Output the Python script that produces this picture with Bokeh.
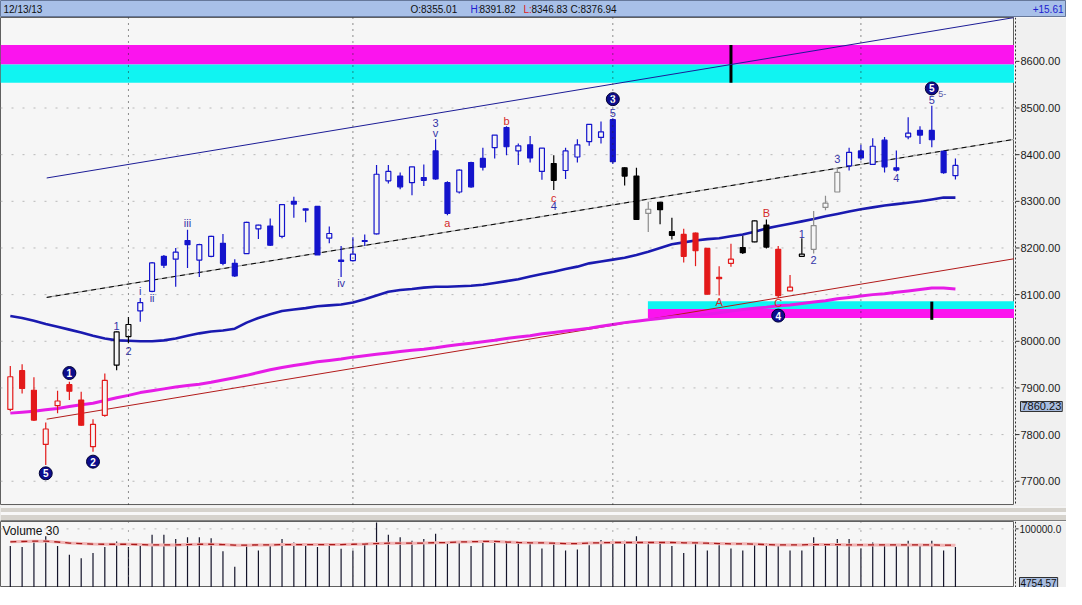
from bokeh.plotting import figure
from bokeh.layouts import column, row
from bokeh.models import Range1d, Label, Span, ColumnDataSource
from bokeh.core.properties import value
from bokeh.embed import file_html
from bokeh.resources import INLINE

FONT = "Liberation Sans"

# ---------------- data ----------------
date_label = "12/13/13"

opens = [7854, 7937, 7895, 7779, 7862, 7907, 7874, 7774, 7841, 7949,
         8010, 8065, 8107, 8182, 8176, 8216, 8174, 8182, 8210, 8167,
         8188, 8241, 8247, 8225, 8300, 8281, 8289, 8221, 8174, 8173,
         8214, 8230, 8344, 8354, 8340, 8351, 8408, 8340, 8320, 8383,
         8392, 8415, 8458, 8408, 8421, 8364, 8381, 8366, 8395, 8428,
         8437, 8475, 8372, 8354, 8274, 8298, 8235, 8229, 8232, 8199,
         8137, 8167, 8201, 8213, 8249, 8197, 8108, 8182, 8197, 8287,
         8320, 8376, 8408, 8379, 8431, 8372, 8438, 8452, 8452, 8407,
         8355.01]
highs = [7947, 7951, 7923, 7826, 7894, 7913, 7892, 7833, 7931, 8021,
         8052, 8093, 8170, 8185, 8200, 8239, 8209, 8226, 8230, 8176,
         8256, 8250, 8263, 8294, 8310, 8285, 8290, 8246, 8204, 8223,
         8229, 8378, 8378, 8362, 8374, 8379, 8433, 8343, 8369, 8385,
         8415, 8442, 8461, 8424, 8440, 8414, 8399, 8415, 8433, 8465,
         8471, 8478, 8373, 8372, 8299, 8299, 8265, 8241, 8233, 8200,
         8161, 8209, 8226, 8259, 8261, 8204, 8142, 8221, 8279, 8312,
         8373, 8415, 8421, 8435, 8438, 8409, 8480, 8461, 8505, 8409,
         8391.82]
lows = [7850, 7888, 7829, 7735, 7846, 7874, 7819, 7763, 7838, 7938,
        7996, 8042, 8105, 8157, 8117, 8157, 8138, 8180, 8163, 8138,
        8187, 8219, 8204, 8221, 8265, 8255, 8185, 8210, 8138, 8171,
        8204, 8229, 8338, 8326, 8313, 8333, 8346, 8270, 8317, 8329,
        8366, 8392, 8399, 8378, 8383, 8346, 8324, 8348, 8383, 8419,
        8424, 8380, 8334, 8261, 8234, 8251, 8218, 8169, 8161, 8100,
        8098, 8160, 8187, 8212, 8199, 8093, 8107, 8181, 8188, 8281,
        8320, 8366, 8388, 8378, 8362, 8364, 8433, 8423, 8416, 8359,
        8346.83]
closes = [7924, 7899, 7831, 7812, 7872, 7893, 7820, 7822, 7916, 8020,
          8036, 8083, 8168, 8163, 8191, 8207, 8207, 8225, 8167, 8140,
          8255, 8249, 8206, 8293, 8294, 8284, 8185, 8231, 8171, 8187,
          8216, 8358, 8364, 8331, 8374, 8345, 8348, 8274, 8367, 8331,
          8373, 8442, 8417, 8419, 8393, 8414, 8345, 8408, 8421, 8465,
          8449, 8385, 8354, 8261, 8283, 8282, 8227, 8182, 8194, 8101,
          8134, 8176, 8190, 8258, 8202, 8098, 8116, 8187, 8248, 8296,
          8362, 8405, 8393, 8418, 8374, 8367, 8446, 8442, 8432, 8361.33,
          8376.94]
# wave colouring of each bar: R red, K black, B blue, G grey
candle_codes = ("RRRRRRRRR" "KK" + "B" * 35 + "K" + "B" * 5 + "KKGKK" +
                "RRRRR" "KKK" "RR" "K" "GGG" + "B" * 10)

ma_blue = [8054, 8050, 8044, 8037, 8031, 8025, 8019, 8012, 8006, 8002,
           8001, 8000, 8000, 8002, 8006, 8012, 8017, 8021, 8023, 8027,
           8040, 8050, 8058, 8065, 8068, 8071, 8075, 8077, 8079, 8083,
           8090, 8098, 8106, 8110, 8112, 8115, 8117, 8117, 8118, 8119,
           8121, 8125, 8129, 8133, 8139, 8144, 8149, 8155, 8160, 8167,
           8171, 8175, 8179, 8185, 8192, 8200, 8208, 8212, 8216, 8219,
           8221, 8225, 8229, 8235, 8242, 8247, 8252, 8257, 8262, 8268,
           8273, 8278, 8283, 8287, 8291, 8294, 8297, 8300, 8304, 8308,
           8308]
ma_magenta = [7846, 7848, 7850, 7853, 7856, 7860, 7864, 7867, 7873, 7879,
              7884, 7890, 7894, 7898, 7902, 7905, 7908, 7912, 7917, 7922,
              7927, 7933, 7939, 7944, 7948, 7952, 7956, 7959, 7962, 7966,
              7969, 7972, 7975, 7978, 7981, 7983, 7986, 7990, 7993, 7996,
              7999, 8002, 8006, 8009, 8012, 8016, 8019, 8022, 8025, 8028,
              8032, 8036, 8040, 8043, 8046, 8049, 8052, 8054, 8056, 8058,
              8061, 8065, 8068, 8071, 8073, 8076, 8078, 8081, 8084, 8087,
              8091, 8094, 8097, 8100, 8102, 8105, 8108, 8111, 8114, 8114,
              8112]

volumes = [72300, 70600, 80800, 88100, 72300, 58000, 52400, 60900, 70600, 79600,
           70600, 73300, 90300, 90300, 83500, 86400, 86400, 84700, 63800, 38300,
           73300, 64800, 72300, 83500, 77900, 73300, 70600, 73600, 67700, 64800,
           75000, 110200, 90300, 86400, 80800, 83500, 92000, 76700, 79100, 72300,
           79100, 80800, 77900, 77900, 75000, 68200, 75000, 64800, 66500, 73300,
           81800, 77900, 80800, 88100, 75000, 76700, 72300, 60900, 75000, 64800,
           73300, 68200, 64800, 73300, 76700, 73300, 64800, 64800, 86400, 72300,
           83500, 83500, 68200, 77900, 73900, 75000, 80800, 72300, 80800, 64800,
           70600]
vol_ma = [79000, 79500, 80000, 80000, 78700, 77000, 76200, 75300, 75000, 75000,
          75000, 74500, 74000, 74000, 74000, 74500, 75000, 75000, 74500, 73600,
          73600, 74000, 74000, 74500, 74500, 74500, 74500, 74500, 74500, 75000,
          75300, 76200, 76700, 76700, 76700, 77000, 77500, 77900, 78700, 79100,
          79600, 79600, 78700, 77900, 77400, 77400, 76700, 76200, 76200, 77000,
          77400, 77900, 77900, 77900, 77900, 77900, 77900, 77400, 77400, 76700,
          76200, 75700, 75700, 75300, 74500, 74000, 74000, 74000, 74500, 74500,
          74500, 74000, 74000, 74000, 74000, 74000, 74000, 74000, 74000, 73600,
          73600]
vol_axis_min = 4754.57
vol_ticks = [100000]

price_ticks = [7700, 7800, 7900, 8000, 8100, 8200, 8300, 8400, 8500, 8600]
month_breaks = [10, 29, 51, 72]
marker_price = 7860.23

# channel / trend lines (bar index, price)
trend_x0 = [3.08, 3.08, 3.08]
trend_y0 = [8350, 8094, 7833]
trend_x1 = [85, 85, 85]
trend_y1 = [8694, 8433, 8177]

# target zones
zone_start = [-0.83, -0.83, 53.97, 53.97]
zone_low = [8593, 8554, 8069, 8050]
zone_high = [8635, 8593, 8086, 8069]
zone_kind = ["m", "c", "c", "m"]
zone_mark_x = [61, 78]
zone_mark_low = [8554, 8046]
zone_mark_high = [8635, 8085]

# wave labels
wave_text = ["1", "2", "i", "ii", "iii", "iv", "3", "v", "a", "b", "c", "4", "5",
             "A", "B", "C", "1", "2", "3", "4", "5"]
wave_x = [9, 10, 11, 12, 15, 28, 36, 36, 37, 42, 46, 46, 51, 60, 64, 65, 67, 68, 70, 75, 78]
wave_y = [8033, 7979, 8107, 8092, 8253, 8125, 8468, 8446, 8254, 8473, 8308, 8289, 8490,
          8085, 8276, 8083, 8231, 8174, 8390, 8349, 8517]
wave_kind = ["b", "b", "b", "b", "b", "b", "b", "b", "r", "r", "r", "b", "b",
             "r", "r", "r", "b", "b", "b", "b", "b"]
circ_text = ["5", "1", "2", "3", "4", "5"]
circ_x = [3, 5, 7, 51, 65, 78]
circ_y = [7717, 7932, 7742, 8519, 8055, 8542]

# ---------------- styling ----------------
W_FRAME = 1014
W_AXIS = 52
W_TOTAL = W_FRAME + W_AXIS
H_MAIN = 488
H_VOL = 66
PLOT_BG = "#f6f6f6"
AXIS_BG = "#f0f0f0"
BOX_BG = "#a8bde0"
code_colors = {"R": "#e31a1a", "K": "#000000", "B": "#1414cc", "G": "#8c8c8c"}
kind_colors = {"b": "#3434a8", "r": "#d42a2a", "m": "#fb14ee", "c": "#10f4f2"}

n = len(opens)
idx = list(range(n))
colors = [code_colors[c] for c in candle_codes]
fills = [PLOT_BG if c >= o else col for o, c, col in zip(opens, closes, colors)]
tops = [max(o, c) for o, c in zip(opens, closes)]
bots = [min(o, c) for o, c in zip(opens, closes)]

xr = Range1d(-0.83, 85)
yr = Range1d(7648, 8694)
vyr = Range1d(vol_axis_min, 112000)


def bare(fig):
    fig.grid.visible = False
    return fig


# ---------------- header ----------------
hdr = bare(figure(frame_width=W_TOTAL, frame_height=17, x_range=Range1d(0, W_TOTAL),
                  y_range=Range1d(0, 1), output_backend="svg", toolbar_location=None,
                  min_border=0, x_axis_location=None, y_axis_location=None,
                  background_fill_color="#a8c0e8", border_fill_color="#a8c0e8",
                  outline_line_color="#66789a"))
change = closes[-1] - closes[-2]
hdr_parts = [
    (3, date_label, "#101010", "left"),
    (410, "O:%.2f" % opens[-1], "#101010", "left"),
    (470, "H:", "#2020d0", "left"),
    (479, "%.2f" % highs[-1], "#101010", "left"),
    (523, "L:", "#e02020", "left"),
    (531, "%.2f" % lows[-1], "#101010", "left"),
    (570, "C:%.2f" % closes[-1], "#101010", "left"),
    (W_TOTAL - 3, "%+.2f" % change, "#2020d0", "right"),
]
for hx, ht, hc, ha in hdr_parts:
    hdr.text(x=[hx], y=[0.5], text=[ht], text_color=hc, text_align=ha,
             text_baseline="middle", text_font=value(FONT), text_font_size="10px")

# ---------------- main price chart ----------------
p = figure(frame_width=W_FRAME, frame_height=H_MAIN, x_range=xr, y_range=yr,
           y_axis_location=None, x_axis_location=None,
           output_backend="svg", toolbar_location=None, min_border=0,
           background_fill_color=PLOT_BG, border_fill_color=PLOT_BG,
           outline_line_color="#606060")
p.xgrid.visible = False
p.ygrid.visible = False
p.segment(x0=[xr.start] * len(price_ticks), y0=price_ticks,
          x1=[xr.end] * len(price_ticks), y1=price_ticks,
          line_color="#b8b8b8", line_dash="2 9", line_width=1)

# zones
zsrc = ColumnDataSource(dict(left=zone_start, right=[xr.end] * len(zone_start),
                             bottom=zone_low, top=zone_high,
                             color=[kind_colors[k] for k in zone_kind]))
p.quad(left="left", right="right", bottom="bottom", top="top", fill_color="color",
       line_color=None, source=zsrc)
p.segment(x0=zone_mark_x, y0=zone_mark_low, x1=zone_mark_x, y1=zone_mark_high,
          line_color="#000000", line_width=3)

for mb in month_breaks:
    p.add_layout(Span(location=mb, dimension="height", line_color="#202020",
                      line_dash="1 5", line_width=1))

# channel lines
p.segment(x0=[trend_x0[0]], y0=[trend_y0[0]], x1=[trend_x1[0]], y1=[trend_y1[0]],
          line_color="#1c1c96", line_width=1)
p.segment(x0=[trend_x0[1]], y0=[trend_y0[1]], x1=[trend_x1[1]], y1=[trend_y1[1]],
          line_color="#a8a8a8", line_width=1.2)
p.segment(x0=[trend_x0[1]], y0=[trend_y0[1]], x1=[trend_x1[1]], y1=[trend_y1[1]],
          line_color="#000000", line_width=1, line_dash="5 4")
p.segment(x0=[trend_x0[2]], y0=[trend_y0[2]], x1=[trend_x1[2]], y1=[trend_y1[2]],
          line_color="#b21a1a", line_width=1)

# moving averages
p.line(idx, ma_magenta, line_color="#e61ce6", line_width=3)
p.line(idx, ma_blue, line_color="#1a1ab0", line_width=2.6)

# candles
csrc = ColumnDataSource(dict(x=idx, high=highs, low=lows, top=tops, bottom=bots,
                             color=colors, fill=fills))
p.segment(x0="x", y0="low", x1="x", y1="high", line_color="color", line_width=1.2,
          source=csrc)
p.vbar(x="x", width=0.42, top="top", bottom="bottom", fill_color="fill",
       line_color="color", line_width=1.2, source=csrc)

# wave labels
wsrc = ColumnDataSource(dict(x=wave_x, y=wave_y, text=wave_text,
                             color=[kind_colors[k] for k in wave_kind]))
p.text(x="x", y="y", text="text", text_color="color", text_align="center",
       text_baseline="middle", text_font=value(FONT), text_font_size="11px", source=wsrc)
p.scatter(x=circ_x, y=circ_y, size=13, fill_color="#0d0d8c", line_color="#000033",
          line_width=1)
p.text(x=circ_x, y=circ_y, text=circ_text, text_color="#ffffff", text_align="center",
       text_baseline="middle", text_font=value(FONT), text_font_size="10px",
       text_font_style="bold")
p.text(x=[circ_x[-1] + 0.55], y=[circ_y[-1] - 12], text=["5-"], text_color="#5a5aa8",
       text_align="left", text_baseline="middle", text_font=value(FONT),
       text_font_size="9px")

# ---------------- price scale (right) ----------------
pax = bare(figure(frame_width=W_AXIS, frame_height=H_MAIN, x_range=Range1d(0, W_AXIS),
                  y_range=yr, output_backend="svg", toolbar_location=None, min_border=0,
                  x_axis_location=None, y_axis_location=None,
                  background_fill_color=AXIS_BG, border_fill_color=AXIS_BG,
                  outline_line_color=None))
pax.add_layout(Span(location=1, dimension="height", line_color="#303030",
                    line_dash="2 2", line_width=1))
pax.segment(x0=[1] * len(price_ticks), y0=price_ticks, x1=[5] * len(price_ticks),
            y1=price_ticks, line_color="#303030", line_width=1)
pax.text(x=[6] * len(price_ticks), y=price_ticks, text=["%.2f" % t for t in price_ticks],
         text_color="#1a1a1a", text_align="left", text_baseline="middle",
         text_font=value(FONT), text_font_size="11px")
pax.text(x=[6], y=[marker_price], text=["%.2f" % marker_price], text_color="#101010",
         text_align="left", text_baseline="middle", text_font=value(FONT),
         text_font_size="11px", background_fill_color=BOX_BG,
         border_line_color="#303030", padding=1)

# ---------------- separator ----------------
sep = bare(figure(frame_width=W_TOTAL, frame_height=16, x_range=Range1d(0, 1),
                  y_range=Range1d(0, 1), output_backend="svg", toolbar_location=None,
                  min_border=0, x_axis_location=None, y_axis_location=None,
                  background_fill_color="#d6d3cd", border_fill_color="#d6d3cd",
                  outline_line_color=None))
sep.hspan(y=[0.93, 0.5, 0.08], line_color=["#f4f4f4", "#f8f8f8", "#808080"],
          line_width=[3, 3, 1])

# ---------------- volume panel ----------------
vp = figure(frame_width=W_FRAME, frame_height=H_VOL, x_range=xr, y_range=vyr,
            y_axis_location=None, x_axis_location=None, output_backend="svg",
            toolbar_location=None, min_border=0,
            background_fill_color=PLOT_BG, border_fill_color=PLOT_BG,
            outline_line_color="#606060")
vp.xgrid.visible = False
vp.ygrid.visible = False
vp.segment(x0=[xr.start] * len(vol_ticks), y0=vol_ticks, x1=[xr.end] * len(vol_ticks),
           y1=vol_ticks, line_color="#b8b8b8", line_dash="2 9", line_width=1)
for mb in month_breaks:
    vp.add_layout(Span(location=mb, dimension="height", line_color="#606060",
                       line_dash="1 8", line_width=1))
vp.segment(x0=idx, y0=[0] * n, x1=idx, y1=volumes, line_color="#14142a", line_width=1.2)
vp.line(idx, vol_ma, line_color="#f2b6b6", line_width=3)
vp.line(idx, vol_ma, line_color="#a81818", line_width=1.3, line_dash="6 5")
vp.add_layout(Label(x=2, y=H_VOL - 2, x_units="screen", y_units="screen",
                    text="Volume 30", text_font=FONT, text_font_size="12px",
                    text_color="#101010", text_baseline="top"))

vax = bare(figure(frame_width=W_AXIS, frame_height=H_VOL, x_range=Range1d(0, W_AXIS),
                  y_range=vyr, output_backend="svg", toolbar_location=None, min_border=0,
                  x_axis_location=None, y_axis_location=None,
                  background_fill_color=AXIS_BG, border_fill_color=AXIS_BG,
                  outline_line_color=None))
vax.add_layout(Span(location=1, dimension="height", line_color="#303030",
                    line_dash="2 2", line_width=1))
vax.segment(x0=[1] * len(vol_ticks), y0=vol_ticks, x1=[4] * len(vol_ticks), y1=vol_ticks,
            line_color="#303030", line_width=1)
vax.text(x=[5] * len(vol_ticks), y=vol_ticks, text=["%.1f" % t for t in vol_ticks],
         text_color="#1a1a1a", text_align="left", text_baseline="middle",
         text_font=value(FONT), text_font_size="10px")
vax.text(x=[5], y=[vol_axis_min], text=["%.2f" % vol_axis_min], text_color="#101010",
         text_align="left", text_baseline="bottom", text_font=value(FONT),
         text_font_size="10px", background_fill_color=BOX_BG,
         border_line_color="#303030", padding=1)

layout = column(hdr, row(p, pax, spacing=0), sep, row(vp, vax, spacing=0), spacing=0)
open("out.html", "w").write(file_html(layout, INLINE))
